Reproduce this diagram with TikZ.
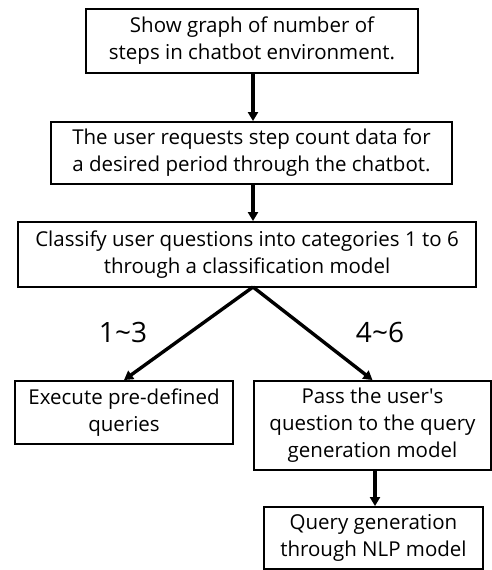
\documentclass[tikz,border=0pt]{standalone}
\usepackage{fontspec}
\setmainfont{Open Sans}
\usetikzlibrary{arrows.meta}
\begin{document}
\begin{tikzpicture}[x=1pt,y=1pt,
  box/.style={draw=black,line width=1.9pt,align=center,inner sep=0pt,
    font=\fontsize{20.5}{27}\selectfont},
  arr/.style={line width=3.4pt,-{Triangle[length=9pt,width=10pt]}},
  lbl/.style={font=\fontsize{28}{32}\selectfont}]
\useasboundingbox[fill=white] (0,0) rectangle (492,-570);
\node[box,minimum width=332pt,minimum height=64pt] (b1) at (252,-41)
  {Show graph of number of\\steps in chatbot environment.};
\node[box,minimum width=401pt,minimum height=62pt] (b2) at (251.5,-153)
  {The user requests step count data for\\a desired period through the chatbot.};
\node[box,minimum width=458pt,minimum height=65pt] (b3) at (247,-254.5)
  {Classify user questions into categories 1 to 6\\through a classification model};
\node[box,minimum width=218pt,minimum height=63pt] (b4) at (124,-412.5)
  {Execute pre-defined\\queries};
\node[box,minimum width=237pt,minimum height=89pt] (b5) at (372.5,-425.5)
  {Pass the user\textquotesingle s\\question to the query\\generation model};
\node[box,minimum width=219pt,minimum height=62pt] (b6) at (373.5,-538)
  {Query generation\\through NLP model};
\coordinate (s1) at (253,-73);
\coordinate (s2) at (253,-184);
\coordinate (s3) at (253,-287);
\coordinate (s5) at (375,-470);
\draw[arr] (s1) -- (s1 |- b2.north);
\draw[arr] (s2) -- (s2 |- b3.north);
\draw[arr] (s3) -- (b4.north);
\draw[arr] (s3) -- (b5.north);
\draw[arr] (s5) -- (s5 |- b6.north);
\node[lbl] (l1) at (123,-332) {1\textasciitilde 3};
\node[lbl] (l2) at (380,-332) {4\textasciitilde 6};
\end{tikzpicture}
\end{document}
